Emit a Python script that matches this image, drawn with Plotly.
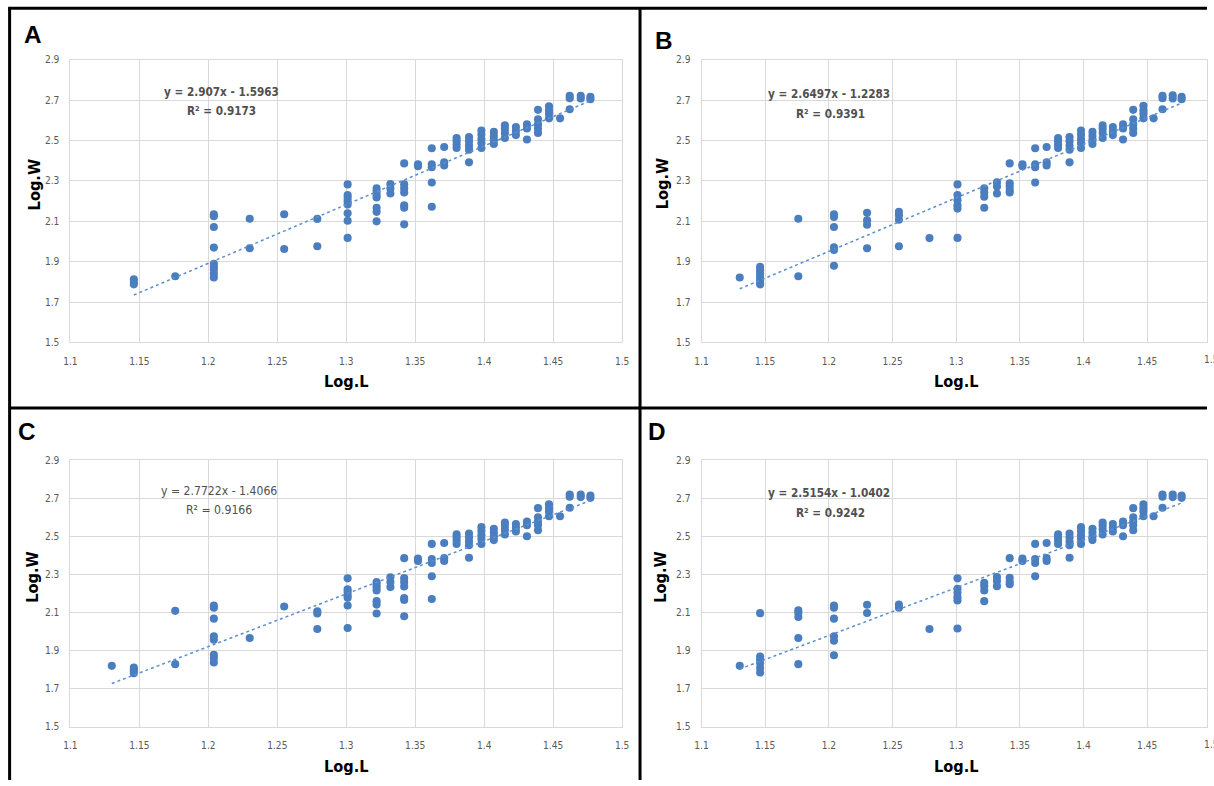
import plotly.graph_objects as go

FIG_W, FIG_H = 1214, 786
# the photographed page shows up with a thin white frame and slightly shrunk;
# these undo that so the marks land where they sit in the source picture
FRAME = 8.0
K_X = FIG_W / (FIG_W + 2 * FRAME)
K_Y = FIG_H / (FIG_H + 2 * FRAME)

# ---------------- data ----------------
PANEL_LABELS = ["A", "B", "C", "D"]
SLOPES = [2.907, 2.6497, 2.7722, 2.5154]
INTERCEPTS = [-1.5963, -1.2283, -1.4066, -1.0402]
EQUATIONS = ["y = 2.907x - 1.5963", "y = 2.6497x - 1.2283",
             "y = 2.7722x - 1.4066", "y = 2.5154x - 1.0402"]
R2_TEXT = ["R² = 0.9173", "R² = 0.9391", "R² = 0.9166", "R² = 0.9242"]

X_TICKS = [1.1, 1.15, 1.2, 1.25, 1.3, 1.35, 1.4, 1.45, 1.5]
X_TICK_LABELS = ["1.1", "1.15", "1.2", "1.25", "1.3", "1.35", "1.4", "1.45", "1.5"]
Y_TICKS = [1.5, 1.7, 1.9, 2.1, 2.3, 2.5, 2.7, 2.9]
Y_TICK_LABELS = ["1.5", "1.7", "1.9", "2.1", "2.3", "2.5", "2.7", "2.9"]
X_RANGE = [1.1, 1.5]
Y_RANGE = [1.5, 2.9]

# Panel A: Log.L column values and the Log.W values stacked on each
A_L = [1.146, 1.176, 1.204, 1.230, 1.255, 1.279, 1.301, 1.322, 1.332, 1.342,
       1.352, 1.362, 1.371, 1.380, 1.389, 1.398, 1.407, 1.415, 1.423, 1.431,
       1.439, 1.447, 1.455, 1.462, 1.470, 1.477]
A_W = [[1.813, 1.80, 1.788],
       [1.828],
       [2.135, 2.125, 2.072, 1.97, 1.89, 1.875, 1.86, 1.84, 1.822],
       [2.113, 1.967],
       [2.135, 1.963],
       [2.112, 1.977],
       [2.283, 2.23, 2.217, 2.2, 2.183, 2.14, 2.103, 2.018],
       [2.263, 2.247, 2.23, 2.218, 2.167, 2.147, 2.1],
       [2.285, 2.263, 2.238],
       [2.387, 2.283, 2.263, 2.243, 2.18, 2.167, 2.085],
       [2.383, 2.373],
       [2.462, 2.383, 2.368, 2.292, 2.172],
       [2.468, 2.392, 2.377],
       [2.513, 2.497, 2.48, 2.463],
       [2.517, 2.497, 2.475, 2.455, 2.392],
       [2.55, 2.53, 2.508, 2.488, 2.463],
       [2.543, 2.522, 2.502, 2.483],
       [2.575, 2.558, 2.538, 2.513],
       [2.567, 2.547, 2.527],
       [2.58, 2.56, 2.505],
       [2.652, 2.605, 2.58, 2.56, 2.538],
       [2.67, 2.65, 2.633, 2.61],
       [2.61],
       [2.722, 2.71, 2.655],
       [2.722, 2.708],
       [2.717, 2.705]]

B_L = [1.130, 1.146, 1.176, 1.204, 1.230, 1.255, 1.279, 1.301, 1.322, 1.332,
       1.342, 1.352, 1.362, 1.371, 1.380, 1.389, 1.398, 1.407, 1.415, 1.423,
       1.431, 1.439, 1.447, 1.455, 1.462, 1.470, 1.477]
B_W = [[1.822],
       [1.875, 1.858, 1.842, 1.825, 1.81, 1.795, 1.788],
       [2.113, 1.828],
       [2.135, 2.122, 2.072, 1.972, 1.958, 1.88],
       [2.142, 2.105, 2.083, 1.967],
       [2.147, 2.13, 2.108, 1.977],
       [2.017],
       [2.283, 2.23, 2.205, 2.18, 2.163, 2.018],
       [2.263, 2.243, 2.222, 2.167],
       [2.293, 2.272, 2.238],
       [2.387, 2.288, 2.272, 2.255, 2.243],
       [2.383, 2.373],
       [2.462, 2.383, 2.368, 2.292],
       [2.468, 2.392, 2.377],
       [2.513, 2.497, 2.48, 2.463],
       [2.517, 2.497, 2.475, 2.455, 2.392],
       [2.55, 2.53, 2.508, 2.488, 2.463],
       [2.543, 2.522, 2.502, 2.483],
       [2.575, 2.558, 2.538, 2.513],
       [2.567, 2.547, 2.527],
       [2.58, 2.56, 2.505],
       [2.652, 2.605, 2.58, 2.56, 2.538],
       [2.672, 2.65, 2.633, 2.61],
       [2.61],
       [2.722, 2.71, 2.655],
       [2.724, 2.708],
       [2.717, 2.705]]

C_L = [1.130, 1.146, 1.176, 1.204, 1.230, 1.255, 1.279, 1.301, 1.322, 1.332,
       1.342, 1.352, 1.362, 1.371, 1.380, 1.389, 1.398, 1.407, 1.415, 1.423,
       1.431, 1.439, 1.447, 1.455, 1.462, 1.470, 1.477]
C_W = [[1.819],
       [1.81, 1.80, 1.79, 1.78],
       [2.108, 1.828],
       [2.136, 2.124, 2.067, 1.974, 1.956, 1.877, 1.86, 1.837],
       [1.965],
       [2.131],
       [2.106, 2.094, 2.013],
       [2.279, 2.221, 2.207, 2.189, 2.177, 2.136, 2.018],
       [2.259, 2.244, 2.23, 2.215, 2.159, 2.141, 2.094],
       [2.285, 2.26, 2.233],
       [2.385, 2.28, 2.26, 2.236, 2.175, 2.165, 2.08],
       [2.383, 2.37],
       [2.46, 2.38, 2.36, 2.29, 2.17],
       [2.465, 2.385, 2.37],
       [2.51, 2.495, 2.478, 2.46],
       [2.515, 2.495, 2.473, 2.453, 2.387],
       [2.548, 2.528, 2.506, 2.486, 2.46],
       [2.54, 2.52, 2.5, 2.48],
       [2.572, 2.555, 2.535, 2.51],
       [2.565, 2.545, 2.525],
       [2.578, 2.558, 2.5],
       [2.648, 2.6, 2.578, 2.558, 2.532],
       [2.668, 2.648, 2.63, 2.605],
       [2.605],
       [2.72, 2.708, 2.65],
       [2.72, 2.706],
       [2.714, 2.702]]

D_L = [1.130, 1.146, 1.176, 1.204, 1.230, 1.255, 1.279, 1.301, 1.322, 1.332,
       1.342, 1.352, 1.362, 1.371, 1.380, 1.389, 1.398, 1.407, 1.415, 1.423,
       1.431, 1.439, 1.447, 1.455, 1.462, 1.470, 1.477]
D_W = [[1.819],
       [2.096, 1.868, 1.851, 1.833, 1.807, 1.784],
       [2.111, 2.097, 2.076, 1.965, 1.828],
       [2.136, 2.124, 2.067, 1.974, 1.951, 1.875],
       [2.14, 2.097],
       [2.141, 2.124],
       [2.013],
       [2.279, 2.224, 2.203, 2.18, 2.163, 2.015],
       [2.256, 2.238, 2.215, 2.159],
       [2.286, 2.265, 2.238],
       [2.385, 2.282, 2.261, 2.248],
       [2.383, 2.37],
       [2.46, 2.38, 2.36, 2.29],
       [2.465, 2.385, 2.37],
       [2.51, 2.495, 2.478, 2.46],
       [2.515, 2.495, 2.473, 2.453, 2.387],
       [2.548, 2.528, 2.506, 2.486, 2.46],
       [2.54, 2.52, 2.5, 2.48],
       [2.572, 2.555, 2.535, 2.51],
       [2.565, 2.545, 2.525],
       [2.578, 2.558, 2.5],
       [2.648, 2.6, 2.578, 2.558, 2.532],
       [2.668, 2.648, 2.63, 2.605],
       [2.605],
       [2.72, 2.708, 2.65],
       [2.72, 2.706],
       [2.714, 2.702]]

PANEL_L = [A_L, B_L, C_L, D_L]
PANEL_W = [A_W, B_W, C_W, D_W]

# ---------------- layout geometry (source-picture pixels) ----------------
def page_x(x):
    return x / K_X - FRAME

def page_y(y):
    return y / K_Y - FRAME

def px(x):
    return page_x(x) / FIG_W

def py(y):
    return 1 - page_y(y) / FIG_H

PLOT_X = [(71.2, 622.1), (701.4, 1210.0), (71.2, 622.1), (701.4, 1210.0)]
PLOT_Y = [(62.3, 343.3), (62.3, 343.3), (460.3, 725.0), (460.3, 725.0)]
LETTER_POS = [(34, 37), (664, 43), (28, 432), (657, 432)]
EQ_POS = [(222, 94), (829, 96), (220, 491), (829, 493)]
R2_POS = [(222, 113), (830, 116), (220, 510), (830, 513)]
YT_POS = [(35, 187), (662, 186), (33, 577), (661, 577)]
XT_POS = [(347, 382), (956, 382), (347, 765), (956, 765)]
XLAB_Y = [360, 360, 743, 743]
EQ_BOLD = [True, True, False, True]

BLUE = "#4A7EBF"
GRID = "#D9D9D9"
TICKC = "#595959"
NARROW = "Liberation Sans Narrow, DejaVu Sans Condensed, Liberation Sans, Arial"
S = 1.0 / K_X   # size compensation

fig = go.Figure()
layout = dict(
    width=FIG_W, height=FIG_H,
    margin=dict(l=0, r=0, t=0, b=0),
    paper_bgcolor="white", plot_bgcolor="white",
    showlegend=False, hovermode=False,
)
annotations = []

for i in range(4):
    xs, ys = [], []
    for lv, wv in zip(PANEL_L[i], PANEL_W[i]):
        for w in wv:
            xs.append(lv)
            ys.append(w)
    sfx = "" if i == 0 else str(i + 1)
    xa, ya = "x" + sfx, "y" + sfx
    fig.add_trace(go.Scatter(
        x=xs, y=ys, mode="markers", xaxis=xa, yaxis=ya,
        marker=dict(color=BLUE, size=8 * S, line=dict(width=0)),
    ))
    xmin, xmax = min(PANEL_L[i]), max(PANEL_L[i])
    fig.add_trace(go.Scatter(
        x=[xmin, xmax],
        y=[SLOPES[i] * xmin + INTERCEPTS[i], SLOPES[i] * xmax + INTERCEPTS[i]],
        mode="lines", xaxis=xa, yaxis=ya,
        line=dict(color="#5B8FD0", width=1.5, dash="dot"),
    ))
    # plot area; where it runs past the page edge, crop the axis range there
    x0f, x1f = px(PLOT_X[i][0]), px(PLOT_X[i][1])
    xr = list(X_RANGE)
    clipped = x1f > 1.0
    if clipped:
        xr[1] = X_RANGE[0] + (X_RANGE[1] - X_RANGE[0]) * (1.0 - x0f) / (x1f - x0f)
        x1f = 1.0
    layout["xaxis" + sfx] = dict(
        domain=[max(0.0, x0f), x1f], anchor=ya,
        range=xr, tickvals=X_TICKS, ticktext=X_TICK_LABELS,
        showgrid=True, gridcolor=GRID, gridwidth=1,
        showline=True, linecolor=GRID, linewidth=1, mirror=True,
        zeroline=False, ticks="", ticklabelstandoff=9,
        tickfont=dict(family=NARROW, size=10 * S, color=TICKC),
    )
    layout["yaxis" + sfx] = dict(
        domain=[py(PLOT_Y[i][1]), py(PLOT_Y[i][0])], anchor=xa,
        range=Y_RANGE, tickvals=Y_TICKS, ticktext=Y_TICK_LABELS,
        showgrid=True, gridcolor=GRID, gridwidth=1,
        showline=True, linecolor=GRID, linewidth=1, mirror=True,
        zeroline=False, ticks="", ticklabelstandoff=8,
        tickfont=dict(family=NARROW, size=10 * S, color=TICKC),
    )
    if clipped:
        # last tick label, cut by the picture edge as in the source
        annotations.append(dict(
            text=X_TICK_LABELS[-1], xref="paper", yref="paper",
            x=px(PLOT_X[i][1]), y=py(XLAB_Y[i]),
            xanchor="center", yanchor="middle", showarrow=False,
            font=dict(family=NARROW, size=10 * S, color=TICKC),
        ))
    annotations.append(dict(
        text="<b>%s</b>" % PANEL_LABELS[i], xref="paper", yref="paper",
        x=px(LETTER_POS[i][0]), y=py(LETTER_POS[i][1]),
        xanchor="center", yanchor="middle", showarrow=False,
        font=dict(family="Liberation Sans, Arial", size=24 * S, color="black"),
    ))
    eqfmt = "<b>%s</b>" if EQ_BOLD[i] else "%s"
    eqsize = (11.5 if EQ_BOLD[i] else 12) * S
    annotations.append(dict(
        text=eqfmt % EQUATIONS[i], xref="paper", yref="paper",
        x=px(EQ_POS[i][0]), y=py(EQ_POS[i][1]),
        xanchor="center", yanchor="middle", showarrow=False,
        font=dict(family=NARROW, size=eqsize, color="#505050"),
    ))
    annotations.append(dict(
        text=eqfmt % R2_TEXT[i], xref="paper", yref="paper",
        x=px(R2_POS[i][0]), y=py(R2_POS[i][1]),
        xanchor="center", yanchor="middle", showarrow=False,
        font=dict(family=NARROW, size=eqsize, color="#505050"),
    ))
    annotations.append(dict(
        text="<b>Log.W</b>", xref="paper", yref="paper",
        x=px(YT_POS[i][0]), y=py(YT_POS[i][1]), textangle=-90,
        xanchor="center", yanchor="middle", showarrow=False,
        font=dict(family=NARROW, size=16 * S, color="black"),
    ))
    annotations.append(dict(
        text="<b>Log.L</b>", xref="paper", yref="paper",
        x=px(XT_POS[i][0]), y=py(XT_POS[i][1]),
        xanchor="center", yanchor="middle", showarrow=False,
        font=dict(family=NARROW, size=16 * S, color="black"),
    ))

layout["annotations"] = annotations

# panel frame lines
frame = dict(type="line", xref="paper", yref="paper",
             line=dict(color="black", width=3))
layout["shapes"] = [
    dict(frame, x0=max(0.0, px(9)), x1=1.0, y0=py(11), y1=py(11)),
    dict(frame, x0=px(10.5), x1=px(10.5), y0=py(11), y1=0.0),
    dict(frame, x0=px(640), x1=px(640), y0=py(11), y1=0.0),
    dict(frame, x0=px(10), x1=1.0, y0=py(408.5), y1=py(408.5)),
]

fig.update_layout(**layout)
fig.write_html(
    "out.html",
    config={"displayModeBar": False},
    post_script="document.body.style.margin='0px';"
                "document.body.style.padding='0px';"
                "document.body.style.overflow='hidden';",
)
